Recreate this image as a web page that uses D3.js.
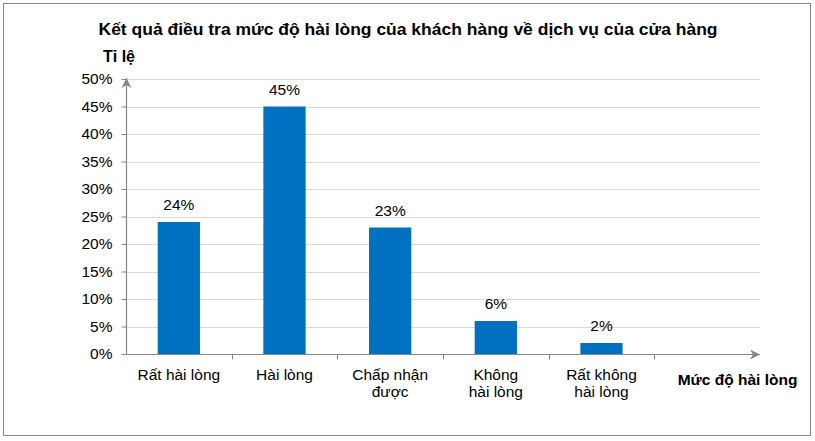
<!DOCTYPE html>
<html><head><meta charset="utf-8">
<script src="https://cdn.jsdelivr.net/npm/d3@7"></script>
<style>body{margin:0;background:#fff;} text{font-family:"Liberation Sans",Arial,sans-serif;fill:#000;}</style>
</head><body>
<svg id="c" width="815" height="441"></svg>
<script>
const categories = [["Rất hài lòng"], ["Hài lòng"], ["Chấp nhận", "được"], ["Không", "hài lòng"], ["Rất không", "hài lòng"]];
const values = [24, 45, 23, 6, 2];
const yTicks = [0, 5, 10, 15, 20, 25, 30, 35, 40, 45, 50];
const title = "Kết quả điều tra mức độ hài lòng của khách hàng về dịch vụ của cửa hàng";
const yTitle = "Tỉ lệ";
const xTitle = "Mức độ hài lòng";

const svg = d3.select("#c");
svg.append("rect").attr("x",3.5).attr("y",3.5).attr("width",807).attr("height",432)
  .attr("fill","#fff").attr("stroke","#898989").attr("stroke-width",1);

const pL = 126, pR = 760, pT = 79, pB = 354;
const fs = 15.5;
const slots = categories.map((d,i)=>i).concat([categories.length]);
const x = d3.scaleBand().domain(slots).range([pL, pR]).paddingInner(0).paddingOuter(0);
const y = d3.scaleLinear().domain([0, 50]).range([pB, pT]);

// grid
svg.append("g").selectAll("line").data(yTicks.filter(t=>t>0)).join("line")
  .attr("x1", pL).attr("x2", pR).attr("y1", d=>Math.round(y(d))+0.5).attr("y2", d=>Math.round(y(d))+0.5)
  .attr("stroke","#d9d9d9").attr("stroke-width",1);

// y axis
const yAxis = svg.append("g").attr("transform",`translate(${pL+0.5},0)`)
  .call(d3.axisLeft(y).tickValues(yTicks).tickFormat(d=>d+"%").tickSize(5).tickSizeOuter(0));
yAxis.select(".domain").remove();
yAxis.selectAll(".tick line").attr("stroke","#868686");
yAxis.selectAll(".tick text").attr("font-size",fs).attr("x",-14).attr("font-family","Liberation Sans, Arial, sans-serif").attr("fill","#000");

// x axis ticks
const xAxis = svg.append("g").attr("transform",`translate(0,${pB+0.5})`);
const bounds = slots.map(s=>x(s)).concat([pR]);
xAxis.selectAll("line.tk").data(bounds.slice(1,-1)).join("line")
  .attr("x1",d=>Math.round(d)+0.5).attr("x2",d=>Math.round(d)+0.5).attr("y1",0).attr("y2",5)
  .attr("stroke","#868686");

// bars
svg.append("g").selectAll("rect").data(values).join("rect")
  .attr("x",(d,i)=>x(i)+x.bandwidth()*0.3).attr("width",x.bandwidth()*0.4)
  .attr("y",d=>y(d)).attr("height",d=>pB-y(d)).attr("fill","#0070c0");

// data labels
svg.append("g").selectAll("text").data(values).join("text")
  .attr("x",(d,i)=>x(i)+x.bandwidth()/2).attr("y",d=>y(d)-12)
  .attr("text-anchor","middle").attr("font-size",fs).text(d=>d+"%");

// category labels
const cl = svg.append("g").selectAll("text").data(categories).join("text")
  .attr("x",(d,i)=>x(i)+x.bandwidth()/2).attr("y",380).attr("text-anchor","middle").attr("font-size",fs);
cl.selectAll("tspan").data(d=>d).join("tspan")
  .attr("x",function(){return this.parentNode.getAttribute("x");})
  .attr("dy",(d,i)=>i===0?0:17).text(d=>d);

// axis lines with arrows
const defs = svg.append("defs");
defs.append("marker").attr("id","arr").attr("viewBox","0 0 10 10").attr("refX",10).attr("refY",5)
  .attr("markerWidth",10).attr("markerHeight",10).attr("markerUnits","userSpaceOnUse").attr("orient","auto")
  .append("path").attr("d","M0,0 L10,5 L0,10 L3,5 Z").attr("fill","#868686");
svg.append("line").attr("x1",pL+0.5).attr("x2",pL+0.5).attr("y1",pB).attr("y2",pT-1)
  .attr("stroke","#868686").attr("stroke-width",1.2).attr("marker-end","url(#arr)");
svg.append("line").attr("x1",pL).attr("x2",pR).attr("y1",pB+0.5).attr("y2",pB+0.5)
  .attr("stroke","#868686").attr("stroke-width",1.2).attr("marker-end","url(#arr)");

// titles
const t = svg.append("text").attr("x",408).attr("y",35).attr("text-anchor","middle").attr("font-size",16)
  .attr("font-weight","bold").text(title);
t.attr("textLength",619).attr("lengthAdjust","spacingAndGlyphs");
svg.append("text").attr("x",103).attr("y",62).attr("font-size",16).attr("font-weight","bold").text(yTitle);
svg.append("text").attr("x",737.5).attr("y",385).attr("text-anchor","middle").attr("font-size",15.5)
  .attr("font-weight","bold").text(xTitle);
</script>
</body></html>
